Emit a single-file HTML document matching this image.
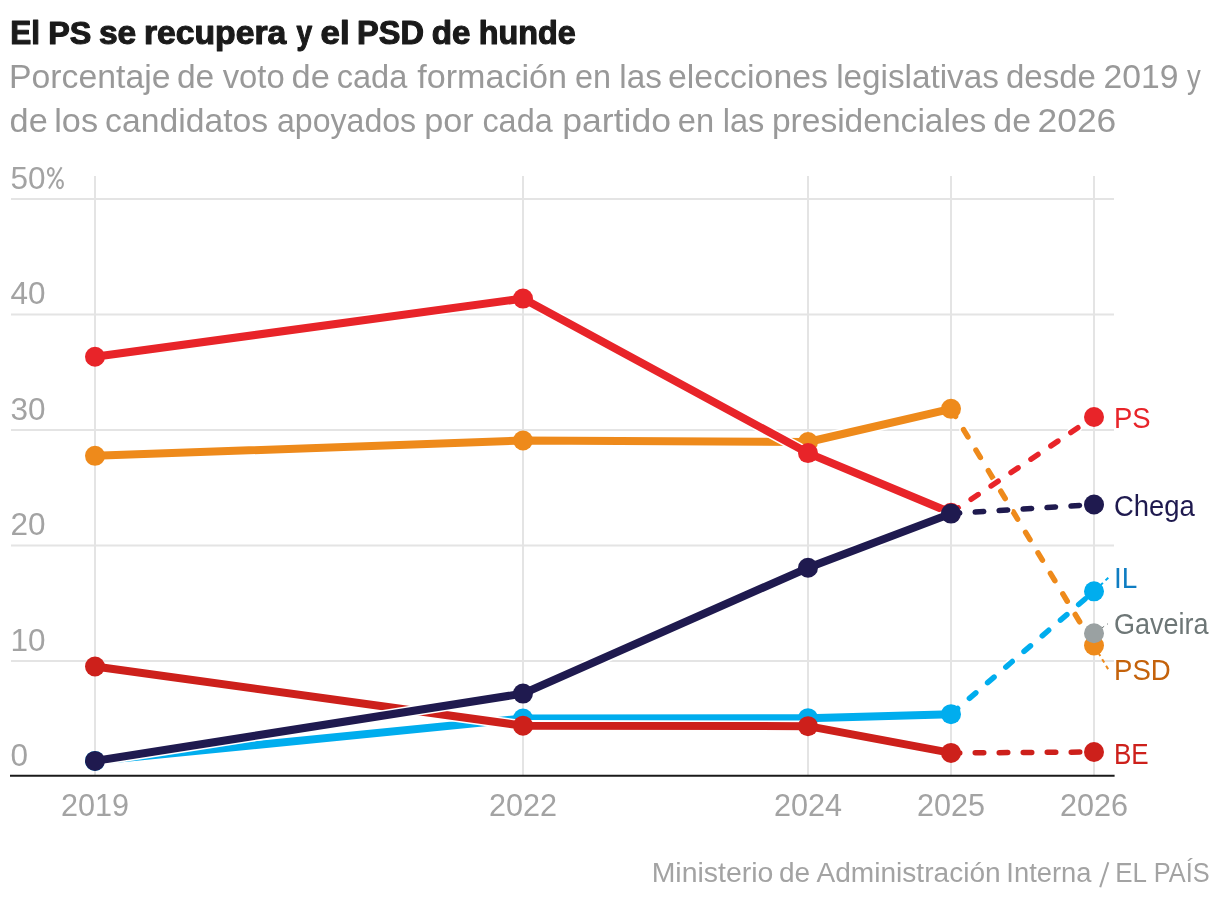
<!DOCTYPE html>
<html><head><meta charset="utf-8"><style>
html,body{margin:0;padding:0;background:#fff;width:1220px;height:902px;overflow:hidden}
svg{display:block;will-change:transform}
text{font-family:"Liberation Sans",sans-serif}
</style></head><body>
<svg width="1220" height="902" viewBox="0 0 1220 902">
<line x1="11" y1="199.0" x2="1114" y2="199.0" stroke="#e4e4e4" stroke-width="2"/>
<line x1="11" y1="314.5" x2="1114" y2="314.5" stroke="#e4e4e4" stroke-width="2"/>
<line x1="11" y1="430.0" x2="1114" y2="430.0" stroke="#e4e4e4" stroke-width="2"/>
<line x1="11" y1="545.5" x2="1114" y2="545.5" stroke="#e4e4e4" stroke-width="2"/>
<line x1="11" y1="661.0" x2="1114" y2="661.0" stroke="#e4e4e4" stroke-width="2"/>
<line x1="95" y1="176" x2="95" y2="775" stroke="#e4e4e4" stroke-width="2"/>
<line x1="523" y1="176" x2="523" y2="775" stroke="#e4e4e4" stroke-width="2"/>
<line x1="808" y1="176" x2="808" y2="775" stroke="#e4e4e4" stroke-width="2"/>
<line x1="951" y1="176" x2="951" y2="775" stroke="#e4e4e4" stroke-width="2"/>
<line x1="1094" y1="176" x2="1094" y2="775" stroke="#e4e4e4" stroke-width="2"/>
<line x1="10" y1="775.8" x2="1114.6" y2="775.8" stroke="#1a1a1a" stroke-width="2"/>
<path d="M1094,645.52 L1108.3,669.4" stroke="#ee8a1b" stroke-width="2" stroke-dasharray="4 3.6" stroke-dashoffset="-0.7"/>
<path d="M1094,633.28 L1108,623.7" stroke="#6d7676" stroke-width="1.0" stroke-dasharray="4 3.6" stroke-dashoffset="-0.7"/>
<path d="M1094,591.35 L1108.3,577.7" stroke="#00adee" stroke-width="2" stroke-dasharray="4 3.6" stroke-dashoffset="-0.7"/>
<g><path d="M951,714.13 L1094,591.35" fill="none" stroke="#fff" stroke-width="8.7" stroke-linecap="round" stroke-dasharray="8.5 15.5" stroke-dashoffset="-0.25"/><path d="M95,760.91 L523,718.52 L808,718.17 L951,714.13" fill="none" stroke="#fff" stroke-width="11.2" stroke-linejoin="round" stroke-linecap="round"/><path d="M951,714.13 L1094,591.35" fill="none" stroke="#00adee" stroke-width="5.5" stroke-linecap="round" stroke-dasharray="8.5 15.5" stroke-dashoffset="-0.25"/><path d="M95,760.91 L523,718.52 L808,718.17 L951,714.13" fill="none" stroke="#00adee" stroke-width="8" stroke-linejoin="round" stroke-linecap="round"/><circle cx="95" cy="760.91" r="10" fill="#00adee"/><circle cx="523" cy="718.52" r="10" fill="#00adee"/><circle cx="808" cy="718.17" r="10" fill="#00adee"/><circle cx="951" cy="714.13" r="10" fill="#00adee"/><circle cx="1094" cy="591.35" r="10" fill="#00adee"/></g>
<g><path d="M951,408.86 L1094,645.52" fill="none" stroke="#fff" stroke-width="8.7" stroke-linecap="round" stroke-dasharray="8.5 15.5" stroke-dashoffset="-0.25"/><path d="M95,455.87 L523,440.51 L808,442.01 L951,408.86" fill="none" stroke="#fff" stroke-width="11.2" stroke-linejoin="round" stroke-linecap="round"/><path d="M951,408.86 L1094,645.52" fill="none" stroke="#ee8a1b" stroke-width="5.5" stroke-linecap="round" stroke-dasharray="8.5 15.5" stroke-dashoffset="-0.25"/><path d="M95,455.87 L523,440.51 L808,442.01 L951,408.86" fill="none" stroke="#ee8a1b" stroke-width="8" stroke-linejoin="round" stroke-linecap="round"/><circle cx="95" cy="455.87" r="10" fill="#ee8a1b"/><circle cx="523" cy="440.51" r="10" fill="#ee8a1b"/><circle cx="808" cy="442.01" r="10" fill="#ee8a1b"/><circle cx="951" cy="408.86" r="10" fill="#ee8a1b"/><circle cx="1094" cy="645.52" r="10" fill="#ee8a1b"/></g>
<g><path d="M951,752.94 L1094,752.01" fill="none" stroke="#fff" stroke-width="8.7" stroke-linecap="round" stroke-dasharray="8.5 15.5" stroke-dashoffset="-0.25"/><path d="M95,666.54 L523,725.68 L808,726.14 L951,752.94" fill="none" stroke="#fff" stroke-width="11.2" stroke-linejoin="round" stroke-linecap="round"/><path d="M951,752.94 L1094,752.01" fill="none" stroke="#cd201b" stroke-width="5.5" stroke-linecap="round" stroke-dasharray="8.5 15.5" stroke-dashoffset="-0.25"/><path d="M95,666.54 L523,725.68 L808,726.14 L951,752.94" fill="none" stroke="#cd201b" stroke-width="8" stroke-linejoin="round" stroke-linecap="round"/><circle cx="95" cy="666.54" r="10" fill="#cd201b"/><circle cx="523" cy="725.68" r="10" fill="#cd201b"/><circle cx="808" cy="726.14" r="10" fill="#cd201b"/><circle cx="951" cy="752.94" r="10" fill="#cd201b"/><circle cx="1094" cy="752.01" r="10" fill="#cd201b"/></g>
<g><path d="M951,512.81 L1094,416.95" fill="none" stroke="#fff" stroke-width="8.7" stroke-linecap="round" stroke-dasharray="8.5 15.5" stroke-dashoffset="-0.25"/><path d="M95,356.77 L523,298.56 L808,453.1 L951,512.81" fill="none" stroke="#fff" stroke-width="11.2" stroke-linejoin="round" stroke-linecap="round"/><path d="M951,512.81 L1094,416.95" fill="none" stroke="#e82429" stroke-width="5.5" stroke-linecap="round" stroke-dasharray="8.5 15.5" stroke-dashoffset="-0.25"/><path d="M95,356.77 L523,298.56 L808,453.1 L951,512.81" fill="none" stroke="#e82429" stroke-width="8" stroke-linejoin="round" stroke-linecap="round"/><circle cx="95" cy="356.77" r="10" fill="#e82429"/><circle cx="523" cy="298.56" r="10" fill="#e82429"/><circle cx="808" cy="453.1" r="10" fill="#e82429"/><circle cx="951" cy="512.81" r="10" fill="#e82429"/><circle cx="1094" cy="416.95" r="10" fill="#e82429"/></g>
<g><path d="M951,513.62 L1094,504.5" fill="none" stroke="#fff" stroke-width="8.7" stroke-linecap="round" stroke-dasharray="8.5 15.5" stroke-dashoffset="-0.25"/><path d="M95,760.91 L523,693.57 L808,567.79 L951,513.62" fill="none" stroke="#fff" stroke-width="11.2" stroke-linejoin="round" stroke-linecap="round"/><path d="M951,513.62 L1094,504.5" fill="none" stroke="#1f1a4f" stroke-width="5.5" stroke-linecap="round" stroke-dasharray="8.5 15.5" stroke-dashoffset="-0.25"/><path d="M95,760.91 L523,693.57 L808,567.79 L951,513.62" fill="none" stroke="#1f1a4f" stroke-width="8" stroke-linejoin="round" stroke-linecap="round"/><circle cx="95" cy="760.91" r="10" fill="#1f1a4f"/><circle cx="523" cy="693.57" r="10" fill="#1f1a4f"/><circle cx="808" cy="567.79" r="10" fill="#1f1a4f"/><circle cx="951" cy="513.62" r="10" fill="#1f1a4f"/><circle cx="1094" cy="504.5" r="10" fill="#1f1a4f"/></g>
<circle cx="1094" cy="633.28" r="10" fill="#9aa1a2"/>
<text transform="translate(10.23,43.8) scale(0.9761,1.0)" font-size="32.3" fill="#1a1a1a" font-weight="bold" text-anchor="start" letter-spacing="0" stroke="#1a1a1a" stroke-width="1.1" stroke-linejoin="round">El</text>
<text transform="translate(48.19,43.8) scale(1.001,1.0)" font-size="32.3" fill="#1a1a1a" font-weight="bold" text-anchor="start" letter-spacing="0" stroke="#1a1a1a" stroke-width="1.1" stroke-linejoin="round">PS</text>
<text transform="translate(98.94,43.8) scale(1.0399,1.0)" font-size="32.3" fill="#1a1a1a" font-weight="bold" text-anchor="start" letter-spacing="0" stroke="#1a1a1a" stroke-width="1.1" stroke-linejoin="round">se</text>
<text transform="translate(143.91,43.8) scale(1.0438,1.0)" font-size="32.3" fill="#1a1a1a" font-weight="bold" text-anchor="start" letter-spacing="0" stroke="#1a1a1a" stroke-width="1.1" stroke-linejoin="round">recupera</text>
<text transform="translate(296.4,43.8) scale(0.8722,1.0)" font-size="32.3" fill="#1a1a1a" font-weight="bold" text-anchor="start" letter-spacing="0" stroke="#1a1a1a" stroke-width="1.1" stroke-linejoin="round">y</text>
<text transform="translate(320.49,43.8) scale(1.0818,1.0)" font-size="32.3" fill="#1a1a1a" font-weight="bold" text-anchor="start" letter-spacing="0" stroke="#1a1a1a" stroke-width="1.1" stroke-linejoin="round">el</text>
<text transform="translate(357.08,43.8) scale(1.0069,1.0)" font-size="32.3" fill="#1a1a1a" font-weight="bold" text-anchor="start" letter-spacing="0" stroke="#1a1a1a" stroke-width="1.1" stroke-linejoin="round">PSD</text>
<text transform="translate(431.77,43.8) scale(1.0278,1.0)" font-size="32.3" fill="#1a1a1a" font-weight="bold" text-anchor="start" letter-spacing="0" stroke="#1a1a1a" stroke-width="1.1" stroke-linejoin="round">de</text>
<text transform="translate(478.69,43.8) scale(1.0027,1.0)" font-size="32.3" fill="#1a1a1a" font-weight="bold" text-anchor="start" letter-spacing="0" stroke="#1a1a1a" stroke-width="1.1" stroke-linejoin="round">hunde</text>
<text transform="translate(9.03,87.9) scale(1.0298,1.0)" font-size="32.8" fill="#999999" font-weight="normal" text-anchor="start" letter-spacing="0" >Porcentaje</text>
<text transform="translate(176.93,87.9) scale(1.0247,1.0)" font-size="32.8" fill="#999999" font-weight="normal" text-anchor="start" letter-spacing="0" >de</text>
<text transform="translate(222.7,87.9) scale(1.0007,1.0)" font-size="32.8" fill="#999999" font-weight="normal" text-anchor="start" letter-spacing="0" >voto</text>
<text transform="translate(291.6,87.9) scale(1.0515,1.0)" font-size="32.8" fill="#999999" font-weight="normal" text-anchor="start" letter-spacing="0" >de</text>
<text transform="translate(336.77,87.9) scale(0.9921,1.0)" font-size="32.8" fill="#999999" font-weight="normal" text-anchor="start" letter-spacing="0" >cada</text>
<text transform="translate(417.21,87.9) scale(1.0412,1.0)" font-size="32.8" fill="#999999" font-weight="normal" text-anchor="start" letter-spacing="0" >formación</text>
<text transform="translate(574.98,87.9) scale(0.9872,1.0)" font-size="32.8" fill="#999999" font-weight="normal" text-anchor="start" letter-spacing="0" >en</text>
<text transform="translate(619.23,87.9) scale(1.0154,1.0)" font-size="32.8" fill="#999999" font-weight="normal" text-anchor="start" letter-spacing="0" >las</text>
<text transform="translate(668.01,87.9) scale(1.0321,1.0)" font-size="32.8" fill="#999999" font-weight="normal" text-anchor="start" letter-spacing="0" >elecciones</text>
<text transform="translate(836.13,87.9) scale(1.0149,1.0)" font-size="32.8" fill="#999999" font-weight="normal" text-anchor="start" letter-spacing="0" >legislativas</text>
<text transform="translate(1005.96,87.9) scale(1.007,1.0)" font-size="32.8" fill="#999999" font-weight="normal" text-anchor="start" letter-spacing="0" >desde</text>
<text transform="translate(1103.6,87.9) scale(1.0278,1.0)" font-size="32.8" fill="#999999" font-weight="normal" text-anchor="start" letter-spacing="0" >2019</text>
<text transform="translate(1186.96,87.9) scale(0.8397,1.0)" font-size="32.8" fill="#999999" font-weight="normal" text-anchor="start" letter-spacing="0" >y</text>
<text transform="translate(9.6,131.8) scale(1.0456,1.0)" font-size="32.8" fill="#999999" font-weight="normal" text-anchor="start" letter-spacing="0" >de</text>
<text transform="translate(54.26,131.8) scale(1.044,1.0)" font-size="32.8" fill="#999999" font-weight="normal" text-anchor="start" letter-spacing="0" >los</text>
<text transform="translate(105.12,131.8) scale(1.0278,1.0)" font-size="32.8" fill="#999999" font-weight="normal" text-anchor="start" letter-spacing="0" >candidatos</text>
<text transform="translate(276.98,131.8) scale(0.9788,1.0)" font-size="32.8" fill="#999999" font-weight="normal" text-anchor="start" letter-spacing="0" >apoyados</text>
<text transform="translate(424.14,131.8) scale(1.045,1.0)" font-size="32.8" fill="#999999" font-weight="normal" text-anchor="start" letter-spacing="0" >por</text>
<text transform="translate(482.38,131.8) scale(0.9892,1.0)" font-size="32.8" fill="#999999" font-weight="normal" text-anchor="start" letter-spacing="0" >cada</text>
<text transform="translate(562.26,131.8) scale(1.0855,1.0)" font-size="32.8" fill="#999999" font-weight="normal" text-anchor="start" letter-spacing="0" >partido</text>
<text transform="translate(677.87,131.8) scale(0.9964,1.0)" font-size="32.8" fill="#999999" font-weight="normal" text-anchor="start" letter-spacing="0" >en</text>
<text transform="translate(722.68,131.8) scale(0.9919,1.0)" font-size="32.8" fill="#999999" font-weight="normal" text-anchor="start" letter-spacing="0" >las</text>
<text transform="translate(771.89,131.8) scale(1.0235,1.0)" font-size="32.8" fill="#999999" font-weight="normal" text-anchor="start" letter-spacing="0" >presidenciales</text>
<text transform="translate(993.32,131.8) scale(1.0337,1.0)" font-size="32.8" fill="#999999" font-weight="normal" text-anchor="start" letter-spacing="0" >de</text>
<text transform="translate(1037.52,131.8) scale(1.0799,1.0)" font-size="32.8" fill="#999999" font-weight="normal" text-anchor="start" letter-spacing="0" >2026</text>
<text transform="translate(10.5,188.6) scale(1.05,1.07)" font-size="30" fill="#a3a3a3" font-weight="normal" text-anchor="start" letter-spacing="0" >50</text>
<text transform="translate(10.5,304.1) scale(1.05,1.07)" font-size="30" fill="#a3a3a3" font-weight="normal" text-anchor="start" letter-spacing="0" >40</text>
<text transform="translate(10.5,419.6) scale(1.05,1.07)" font-size="30" fill="#a3a3a3" font-weight="normal" text-anchor="start" letter-spacing="0" >30</text>
<text transform="translate(10.5,535.1) scale(1.05,1.07)" font-size="30" fill="#a3a3a3" font-weight="normal" text-anchor="start" letter-spacing="0" >20</text>
<text transform="translate(10.5,650.6) scale(1.05,1.07)" font-size="30" fill="#a3a3a3" font-weight="normal" text-anchor="start" letter-spacing="0" >10</text>
<text transform="translate(10.5,766.1) scale(1.05,1.07)" font-size="30" fill="#a3a3a3" font-weight="normal" text-anchor="start" letter-spacing="0" >0</text>
<g fill="none" stroke="#a3a3a3" stroke-width="2"><ellipse cx="50.8" cy="171.8" rx="2.9" ry="3.9"/><ellipse cx="60" cy="184.1" rx="2.9" ry="4.1"/><path d="M61.6,167.3 L49,188.5"/></g>
<text transform="translate(95,816) scale(1.02,1.07)" font-size="30" fill="#a3a3a3" font-weight="normal" text-anchor="middle" letter-spacing="0" >2019</text>
<text transform="translate(523,816) scale(1.02,1.07)" font-size="30" fill="#a3a3a3" font-weight="normal" text-anchor="middle" letter-spacing="0" >2022</text>
<text transform="translate(808,816) scale(1.02,1.07)" font-size="30" fill="#a3a3a3" font-weight="normal" text-anchor="middle" letter-spacing="0" >2024</text>
<text transform="translate(951,816) scale(1.02,1.07)" font-size="30" fill="#a3a3a3" font-weight="normal" text-anchor="middle" letter-spacing="0" >2025</text>
<text transform="translate(1094,816) scale(1.02,1.07)" font-size="30" fill="#a3a3a3" font-weight="normal" text-anchor="middle" letter-spacing="0" >2026</text>
<text transform="translate(1114,427.9) scale(0.98,1.07)" font-size="28" fill="#e82429" font-weight="normal" text-anchor="start" letter-spacing="0" >PS</text>
<text transform="translate(1114,515.8) scale(0.98,1.07)" font-size="28" fill="#1f1a4f" font-weight="normal" text-anchor="start" letter-spacing="0" >Chega</text>
<text transform="translate(1114,587.9) scale(1,1.07)" font-size="28" fill="#0f7dc2" font-weight="normal" text-anchor="start" letter-spacing="0" >IL</text>
<text transform="translate(1114,633.7) scale(0.965,1.07)" font-size="28" fill="#6d7676" font-weight="normal" text-anchor="start" letter-spacing="0" >Gaveira</text>
<text transform="translate(1114,679.5) scale(0.985,1.07)" font-size="28" fill="#c4620b" font-weight="normal" text-anchor="start" letter-spacing="0" >PSD</text>
<text transform="translate(1114,764) scale(0.93,1.07)" font-size="28" fill="#cd201b" font-weight="normal" text-anchor="start" letter-spacing="0" >BE</text>
<text transform="translate(651.64,882) scale(1.038,1.02)" font-size="27.4" fill="#a3a3a3" font-weight="normal" text-anchor="start" letter-spacing="0" >Ministerio</text>
<text transform="translate(778.97,882) scale(1.0235,1.02)" font-size="27.4" fill="#a3a3a3" font-weight="normal" text-anchor="start" letter-spacing="0" >de</text>
<text transform="translate(816.54,882) scale(1.0251,1.02)" font-size="27.4" fill="#a3a3a3" font-weight="normal" text-anchor="start" letter-spacing="0" >Administración</text>
<text transform="translate(1006.37,882) scale(0.9977,1.02)" font-size="27.4" fill="#a3a3a3" font-weight="normal" text-anchor="start" letter-spacing="0" >Interna</text>
<text transform="translate(1115.25,882) scale(0.9475,1.02)" font-size="27.4" fill="#a3a3a3" font-weight="normal" text-anchor="start" letter-spacing="0" >EL</text>
<text transform="translate(1153.8,882) scale(0.9256,1.02)" font-size="27.4" fill="#a3a3a3" font-weight="normal" text-anchor="start" letter-spacing="0" >PAÍS</text>
<path d="M1100.2,887.2 L1108.3,862.2" stroke="#a3a3a3" stroke-width="2.1"/>
</svg>
</body></html>
